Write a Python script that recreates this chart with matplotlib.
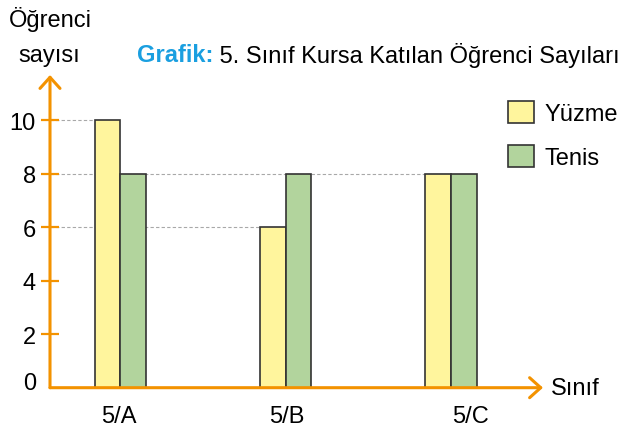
import numpy as np
import matplotlib.pyplot as plt
from matplotlib.patches import Patch
from matplotlib.transforms import ScaledTranslation

plt.rcParams['font.family'] = ['Liberation Sans', 'DejaVu Sans']

# Veriler
siniflar = ['5/A', '5/B', '5/C']
yuzme = [10, 6, 8]
tenis = [8, 8, 8]
y_ticks = [0, 2, 4, 6, 8, 10]

# Couleurs / styles
turuncu = '#F39200'
sari = '#FFF59D'
yesil = '#B2D49D'
kenar = '#333333'
mavi = '#1A9FE0'

W, H = 635, 435
fig = plt.figure(figsize=(W / 100, H / 100), dpi=100)

# axe placé en pixels (origine, bout des flèches)
x0, x1 = 50, 543
y0, y1 = 388.7, 76
ax = fig.add_axes([x0 / W, (H - y0) / H, (x1 - x0) / W, (y0 - y1) / H])

px_x = 165.25   # pixels par catégorie
px_y = 26.75    # pixels par unité
ax.set_xlim(-(120.5 - x0) / px_x, (x1 - 120.5) / px_x)
ax.set_ylim(0, (y0 - y1) / px_y)

x = np.arange(len(siniflar))
w = 25.7 / px_x
b1 = ax.bar(x - w / 2, yuzme, w, color=sari, edgecolor=kenar, lw=1.2, zorder=3)
b2 = ax.bar(x + w / 2, tenis, w, color=yesil, edgecolor=kenar, lw=1.2, zorder=3)

# lignes pointillées jusqu'à la barre la plus à droite de même hauteur
bars = list(b1) + list(b2)
for v in y_ticks[1:]:
    lefts = [b.get_x() for b in bars if b.get_height() == v]
    if lefts:
        ax.plot([ax.get_xlim()[0], max(lefts)], [v, v], ls=(0, (3, 2)),
                color='#a8a8a8', lw=0.8, zorder=1)

for s in ax.spines.values():
    s.set_visible(False)

# axes avec flèches
fleche = dict(arrowstyle='->,head_length=0.8,head_width=0.72', color=turuncu,
              lw=2.2, mutation_scale=10, shrinkA=0, shrinkB=0)
ax.annotate('', xy=(1, 0), xytext=(0, 0), xycoords='axes fraction', arrowprops=fleche)
ax.annotate('', xy=(0, 1), xytext=(0, 0), xycoords='axes fraction', arrowprops=fleche)

ax.set_yticks(y_ticks)
ax.set_yticklabels([str(t) for t in y_ticks])
ax.tick_params(axis='y', direction='inout', length=12.5, width=1.6, color=turuncu,
               labelsize=17, pad=4)
ax.yaxis.get_major_ticks()[0].tick1line.set_visible(False)
ax.get_yticklabels()[0].set_transform(
    ax.get_yticklabels()[0].get_transform() + ScaledTranslation(0, 5 / 72, fig.dpi_scale_trans))
ax.set_xticks([])

# étiquettes des classes
decalage = [-2, 1, 19]
for xi, lab, d in zip(x, siniflar, decalage):
    ax.annotate(lab, xy=(xi, 0), xycoords='data', xytext=(d * 0.72, -28 * 0.72),
                textcoords='offset points', ha='center', va='center', fontsize=17)

ax.annotate('Sınıf', xy=(1, 0), xycoords='axes fraction', xytext=(8 * 0.72, 0),
            textcoords='offset points', ha='left', va='center', fontsize=17)

fig.text(50 / W, 1 - 20 / H, 'Öğrenci', ha='center', va='center', fontsize=17)
fig.text(49 / W, 1 - 56 / H, 'sayısı', ha='center', va='center', fontsize=17)

t1 = fig.text(137 / W, 1 - 62.5 / H, 'Grafik:', color=mavi, fontweight='bold',
              fontsize=17, ha='left', va='baseline')
ax.annotate(' 5. Sınıf Kursa Katılan Öğrenci Sayıları', xy=(1, 0), xycoords=t1,
            ha='left', va='bottom', fontsize=17, color='black')

handles = [Patch(facecolor=sari, edgecolor=kenar, lw=1.2),
           Patch(facecolor=yesil, edgecolor=kenar, lw=1.2)]
fig.legend(handles, ['Yüzme', 'Tenis'], loc='upper left',
           bbox_to_anchor=(508 / W, 1 - 102 / H), frameon=False, fontsize=17,
           handlelength=1.1, handleheight=1.05, handletextpad=0.45,
           labelspacing=0.85, borderpad=0, borderaxespad=0)

fig.savefig('out.png', dpi=100)
